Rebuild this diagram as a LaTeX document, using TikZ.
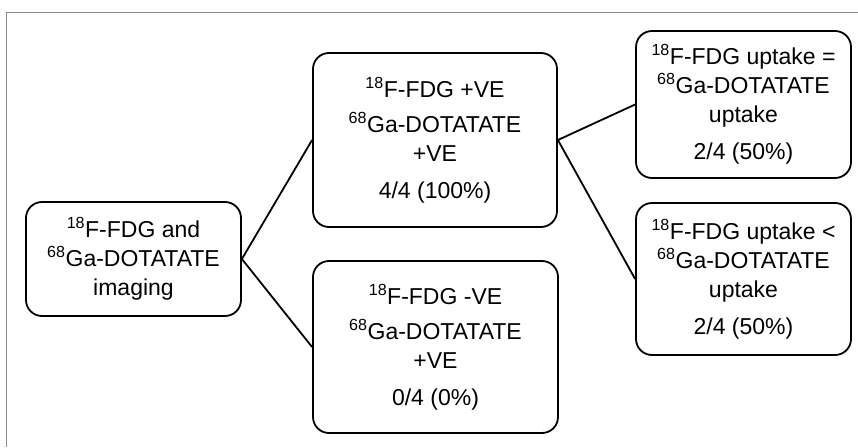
\documentclass[tikz,border=0pt]{standalone}
\usepackage{fontspec}
\setmainfont{Liberation Sans}
\usepackage{tikz}

\begin{document}
\begin{tikzpicture}[x=1pt, y=-1pt,
  box/.style={draw, line width=1.8pt, rounded corners=16pt, align=center, inner sep=0pt,
    font=\fontsize{23}{29}\selectfont, text=black},
  link/.style={line width=1.8pt}]
\useasboundingbox (0,0) rectangle (858,447);
\draw[black!45, line width=0.8pt] (6,447) -- (6,12) -- (858,12);
\node[box, minimum width=215, minimum height=114] (img) at (133.5,259)
  {\textsuperscript{18}F-FDG and\\ \textsuperscript{68}Ga-DOTATATE\\ imaging};
\node[box, minimum width=244, minimum height=174] (pos) at (435,140)
  {\textsuperscript{18}F-FDG +VE\\[6pt] \textsuperscript{68}Ga-DOTATATE\\ +VE\\[8pt] 4/4 (100\%)};
\node[box, minimum width=245, minimum height=172] (neg) at (435.5,347)
  {\textsuperscript{18}F-FDG -VE\\[6pt] \textsuperscript{68}Ga-DOTATATE\\ +VE\\[8pt] 0/4 (0\%)};
\node[box, minimum width=215, minimum height=147] (eq) at (743.5,104.5)
  {\textsuperscript{18}F-FDG uptake =\\ \textsuperscript{68}Ga-DOTATATE\\ uptake\\[8pt] 2/4 (50\%)};
\node[box, minimum width=215, minimum height=152] (lt) at (743.5,279)
  {\textsuperscript{18}F-FDG uptake <\\ \textsuperscript{68}Ga-DOTATATE\\ uptake\\[8pt] 2/4 (50\%)};
\draw[link] (pos.west) -- (img.east) -- (neg.west);
\draw[link] (eq.west) -- (pos.east) -- (lt.west);
\end{tikzpicture}
\end{document}
